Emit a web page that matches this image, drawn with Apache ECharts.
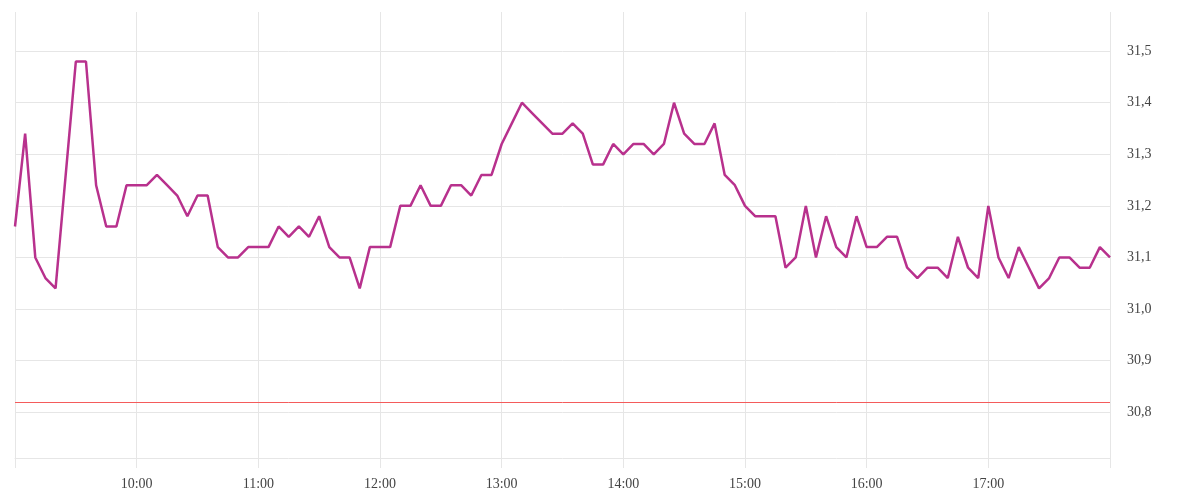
<!DOCTYPE html>
<html>
<head>
<meta charset="utf-8">
<script src="https://cdn.jsdelivr.net/npm/echarts@6/dist/echarts.min.js"></script>
<style>html,body{margin:0;padding:0;background:#fff}#c{width:1200px;height:500px}</style>
</head>
<body>
<div id="c"></div>
<script>
// 5-minute samples from 09:00 to 18:00
const startHour = 9;
const stepMinutes = 5;
const values = [
  31.16, 31.34, 31.10, 31.06, 31.04, 31.26, 31.48, 31.48, 31.24, 31.16,
  31.16, 31.24, 31.24, 31.24, 31.26, 31.24, 31.22, 31.18, 31.22, 31.22,
  31.12, 31.10, 31.10, 31.12, 31.12, 31.12, 31.16, 31.14, 31.16, 31.14,
  31.18, 31.12, 31.10, 31.10, 31.04, 31.12, 31.12, 31.12, 31.20, 31.20,
  31.24, 31.20, 31.20, 31.24, 31.24, 31.22, 31.26, 31.26, 31.32, 31.36,
  31.40, 31.38, 31.36, 31.34, 31.34, 31.36, 31.34, 31.28, 31.28, 31.32,
  31.30, 31.32, 31.32, 31.30, 31.32, 31.40, 31.34, 31.32, 31.32, 31.36,
  31.26, 31.24, 31.20, 31.18, 31.18, 31.18, 31.08, 31.10, 31.20, 31.10,
  31.18, 31.12, 31.10, 31.18, 31.12, 31.12, 31.14, 31.14, 31.08, 31.06,
  31.08, 31.08, 31.06, 31.14, 31.08, 31.06, 31.20, 31.10, 31.06, 31.12,
  31.08, 31.04, 31.06, 31.10, 31.10, 31.08, 31.08, 31.12, 31.10
];
const yTickValues = [30.8, 30.9, 31.0, 31.1, 31.2, 31.3, 31.4, 31.5];
const referenceLevel = 30.82;
const yMin = 30.711;
const yMax = 31.576;

const categories = values.map((v, i) => {
  const m = startHour * 60 + i * stepMinutes;
  const h = Math.floor(m / 60), mm = m % 60;
  return String(h).padStart(2, '0') + ':' + String(mm).padStart(2, '0');
});
const lastIdx = categories.length - 1;

const font = 'Liberation Serif';
const grey = '#e6e6e6';

const chart = echarts.init(document.getElementById('c'), null, {renderer: 'canvas'});
chart.setOption({
  animation: false,
  backgroundColor: '#fff',
  grid: {left: 15, right: 90, top: 12, bottom: 42, containLabel: false},
  xAxis: {
    type: 'category',
    data: categories,
    boundaryGap: false,
    axisLine: {show: true, lineStyle: {color: grey, width: 1}},
    axisTick: {show: true, length: 10, interval: (i) => i % 12 === 0, lineStyle: {color: grey}},
    splitLine: {show: true, interval: (i) => i % 12 === 0, lineStyle: {color: grey, width: 1}},
    axisLabel: {
      interval: (i) => i % 12 === 0 && i !== 0 && i !== lastIdx,
      hideOverlap: false,
      color: '#444', fontFamily: font, fontSize: 14, margin: 19,
      formatter: (v) => v.replace(/^0/, '')
    }
  },
  yAxis: {
    type: 'value',
    position: 'right',
    min: yMin,
    max: yMax,
    axisLine: {show: false},
    axisTick: {show: false, customValues: yTickValues},
    splitLine: {show: true, customValues: yTickValues, lineStyle: {color: grey, width: 1}},
    axisLabel: {
      customValues: yTickValues,
      color: '#444', fontFamily: font, fontSize: 14, margin: 17,
      padding: [4, 0, 0, 0],
      formatter: (v) => v.toFixed(1).replace('.', ',')
    }
  },
  series: [{
    type: 'line',
    data: values,
    symbol: 'none',
    lineStyle: {color: '#b8318d', width: 2.5},
    itemStyle: {color: '#b8318d'},
    markLine: {
      silent: true,
      symbol: 'none',
      label: {show: false},
      lineStyle: {color: '#f45b5b', width: 1, type: 'solid'},
      data: [{yAxis: referenceLevel}]
    }
  }]
});
</script>
</body>
</html>
